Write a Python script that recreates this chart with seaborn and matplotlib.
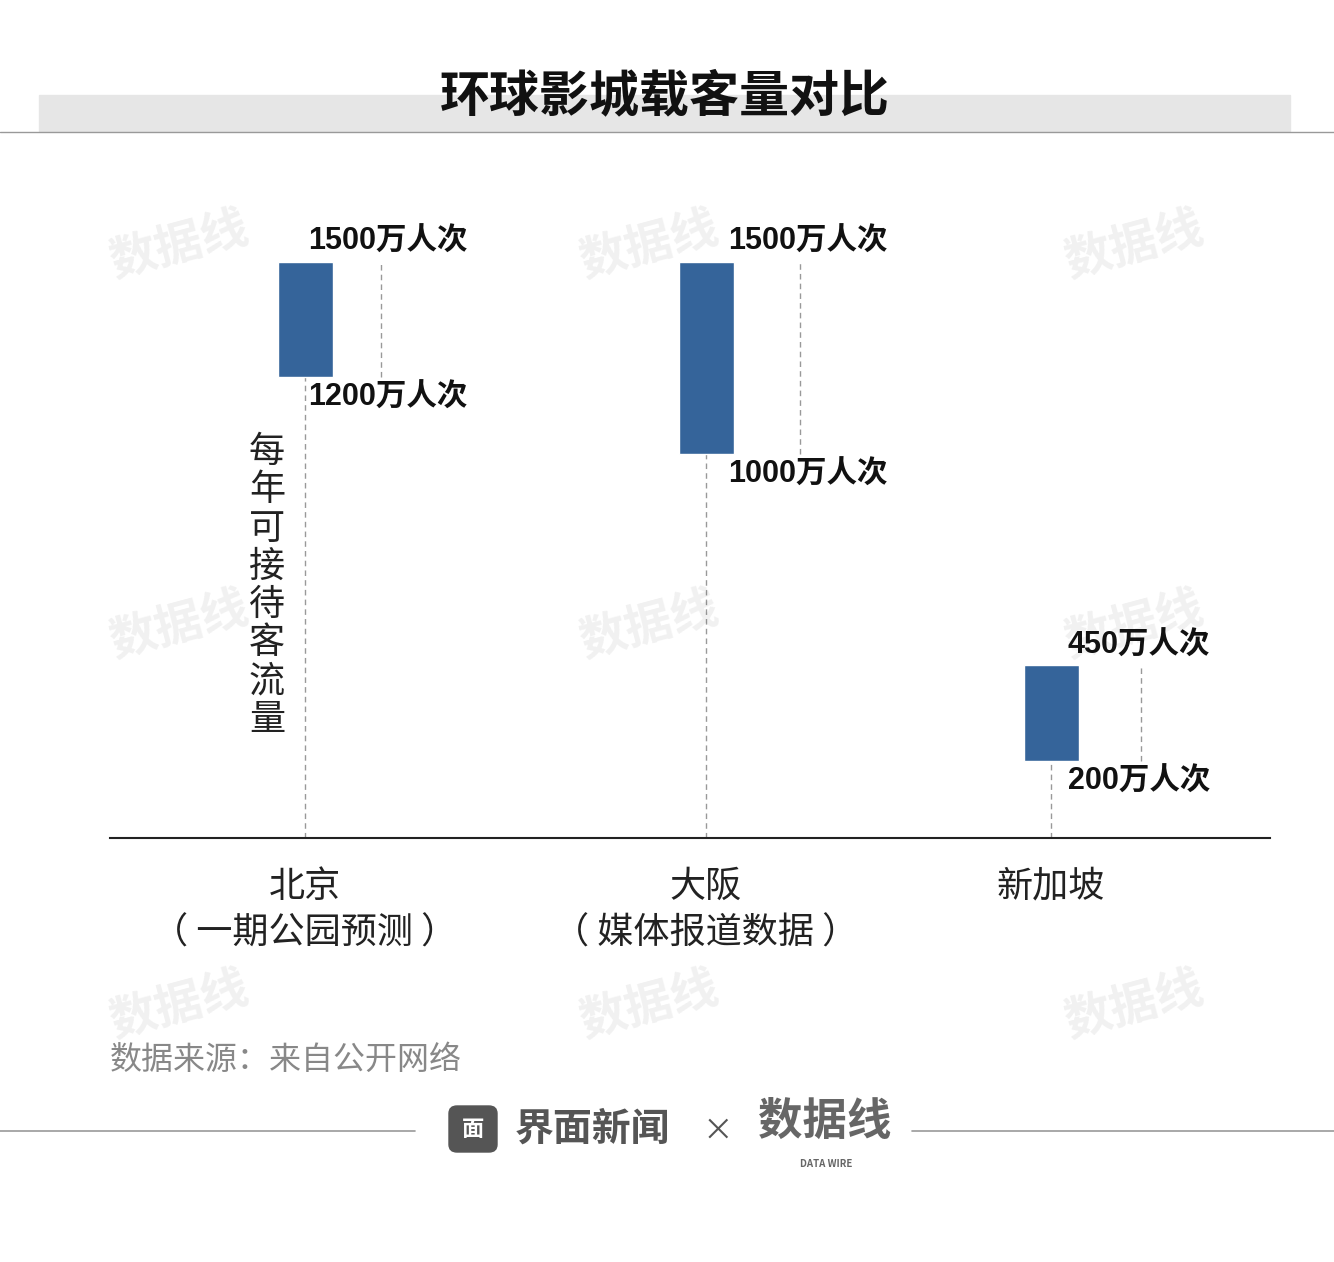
import matplotlib
matplotlib.use("Agg")
import matplotlib.pyplot as plt
import seaborn as sns
from matplotlib.patches import FancyBboxPatch, Rectangle

sns.set_theme(style="white")
plt.rcParams['font.family'] = ['Noto Sans CJK SC', 'DejaVu Sans']

categories = ["北京\n（ 一期公园预测 ）", "大阪\n（ 媒体报道数据 ）", "新加坡"]
low = [1200, 1000, 200]
high = [1500, 1500, 450]
low_labels = ["1200万人次", "1000万人次", "200万人次"]
high_labels = ["1500万人次", "1500万人次", "450万人次"]
xpos = [305, 706, 1051]       # layout positions (px)
label_off = [3, 22, 17]       # label x offset (px)
dash_off = [76, 94, 90]       # right dashed line offset (px)

W, H = 1334, 1262
fig = plt.figure(figsize=(W/100, H/100), dpi=100)
fig.patch.set_facecolor("white")

fig.patches.append(Rectangle((39/W, 1-131/H), (1290-39)/W, 36/H, transform=fig.transFigure,
                             color="#e6e6e6", zorder=0))
fig.add_artist(plt.Line2D([0, 1], [1-132/H]*2, color="#999999", lw=1))
fig.text(665/W, 1-97/H, "环球影城载客量对比", ha="center", va="center", fontsize=36,
         fontweight="bold", color="#111111")

ax = fig.add_axes([110/W, 1-838/H, 1160/W, 638/H])
ax.set_xlim(110, 1270)
ax.set_ylim(0, 1661)
for s in ["top", "right", "left"]:
    ax.spines[s].set_visible(False)
ax.spines["bottom"].set_color("#222222")
ax.spines["bottom"].set_linewidth(1.5)
ax.set_yticks([])
ax.set_xticks(xpos)
ax.set_xticklabels(categories, fontsize=26, color="#222222", linespacing=1.4, va="top")
ax.tick_params(axis="x", length=0, pad=22)
ax.set_facecolor("white")

ax.bar(xpos, [h - l for h, l in zip(high, low)], bottom=low, width=55,
       color="#35649a", zorder=3)
for x, l, h, ll, hl, lo, do in zip(xpos, low, high, low_labels, high_labels, label_off, dash_off):
    ax.plot([x, x], [0, l], ls=(0, (4, 3)), color="#999999", lw=1, zorder=1)
    ax.plot([x + do, x + do], [l, h], ls=(0, (4, 3)), color="#999999", lw=1, zorder=1)
    ax.text(x + lo, h + 12, hl, fontsize=22, fontweight="semibold", va="bottom", ha="left",
            color="#111111", family=["Liberation Sans", "Noto Sans CJK SC"])
    ax.text(x + lo, l - 15, ll, fontsize=22, fontweight="semibold", va="top", ha="left",
            color="#111111", family=["Liberation Sans", "Noto Sans CJK SC"])

fig.text(267/W, 1-586/H, "\n".join("每年可接待客流量"), ha="center", va="center",
         fontsize=26, color="#222222", linespacing=1.08)

for wx in [180, 650, 1135]:
    for wy in [245, 625, 1005]:
        fig.text(wx/W, 1-wy/H, "数据线", ha="center", va="center", fontsize=34,
                 fontweight="bold", color="#000000", alpha=0.06, rotation=15)

fig.text(110/W, 1-1060/H, "数据来源：来自公开网络", ha="left", va="center", fontsize=23, color="#888888")

fig.add_artist(plt.Line2D([0, 415/W], [1-1131/H]*2, color="#999999", lw=1.2))
fig.add_artist(plt.Line2D([912/W, 1], [1-1131/H]*2, color="#999999", lw=1.2))
fig.patches.append(FancyBboxPatch((449/W, 1-1152/H), 48/W, 46/H, boxstyle="round,pad=0,rounding_size=0.006",
                                  transform=fig.transFigure, color="#555555"))
fig.text(473/W, 1-1129/H, "面", ha="center", va="center", fontsize=16, color="white", fontweight="bold")
fig.text(515/W, 1-1129/H, "界面新闻", ha="left", va="center", fontsize=28, fontweight="bold", color="#555555")
fig.text(718/W, 1-1131/H, "×", ha="center", va="center", fontsize=22, color="#555555")
fig.text(825/W, 1-1122/H, "数据线", ha="center", va="center", fontsize=32, fontweight="bold", color="#666666")
fig.text(826/W, 1-1164/H, "DATA WIRE", ha="center", va="center", fontsize=7, fontweight="bold", color="#666666")

fig.savefig("out.png", dpi=100, facecolor="white")
